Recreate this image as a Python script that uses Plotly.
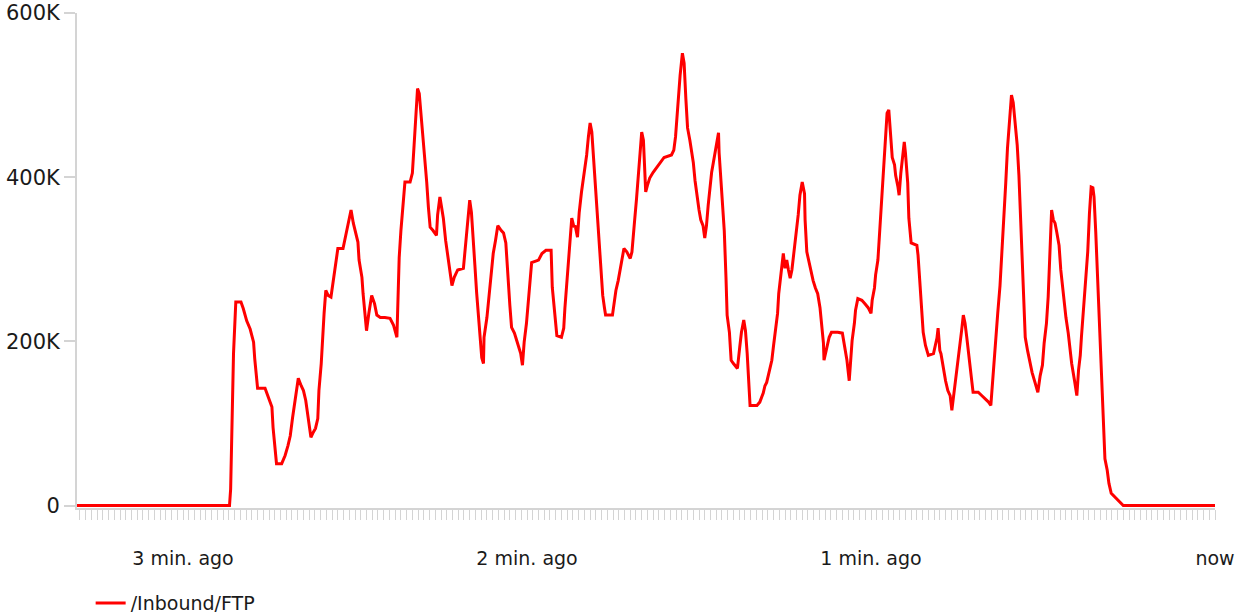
import plotly.graph_objects as go

# Time in seconds relative to "now" (negative = ago), values in K (thousands)
t_idle_start = [-198.5, -171.9]
v_idle_start = [0, 0]

t_seg1 = [-171.7, -171.5, -171.2, -170.8, -169.9, -169.5, -168.9, -168.3, -167.7, -167.5,
          -167.2, -167.0, -165.7, -165.1, -164.5, -164.3, -164.0, -163.7, -162.8, -162.2,
          -161.7, -161.3, -160.9, -160.5, -160.2, -159.9, -159.4, -159.0, -158.6, -158.3,
          -158.0, -157.7, -157.3, -156.9, -156.5, -156.3, -155.9, -155.7, -155.4, -155.1,
          -154.7, -154.2, -153.8, -153.4, -153.0, -152.1, -151.6, -151.2, -150.7, -150.3,
          -149.9, -149.5, -149.3, -148.8, -148.6, -148.3, -148.0, -147.6, -147.1, -146.6,
          -146.2, -145.6, -144.8, -143.9, -143.3, -142.7]
v_seg1 = [20, 104, 185, 248, 248, 240, 225, 215, 199, 179,
          158, 143, 143, 132, 120, 95, 71, 51, 51, 61,
          73, 85, 107, 124, 140, 155, 146, 140, 128, 112,
          98, 83, 89, 94, 106, 140, 173, 205, 234, 262,
          256, 254, 274, 295, 313, 313, 329, 344, 360, 344,
          332, 321, 299, 278, 258, 234, 213, 234, 256, 246,
          232, 229, 229, 228, 220, 205]

t_seg2 = [-142.5, -142.3, -142.0, -141.6, -141.3, -140.4, -140.0, -139.7, -139.4, -139.1,
          -138.8, -138.5, -138.1, -137.8, -137.5, -137.2, -136.9, -136.4, -135.8, -135.6,
          -135.2, -134.9, -134.6, -134.2, -133.8, -133.4, -133.1, -132.7, -132.1, -131.1,
          -130.7, -130.4, -130.0, -129.7, -129.4, -129.1, -128.8, -128.5, -128.2, -127.9,
          -127.6, -127.5, -127.0, -126.6, -126.3, -125.9, -125.5, -125.1, -124.5, -124.1,
          -123.7, -123.4, -123.0, -122.7, -122.2, -121.8, -121.4, -121.1, -120.8, -120.5,
          -120.1, -119.8, -119.5, -119.2, -118.0, -117.4, -116.7, -115.8, -115.6, -115.1,
          -114.8, -114.0, -113.6, -113.4, -113.1, -112.8, -112.5, -112.2, -111.8]
v_seg2 = [265, 302, 335, 370, 394, 394, 405, 439, 478, 508,
          502, 478, 451, 424, 394, 363, 339, 335, 329, 354,
          376, 363, 350, 323, 302, 284, 268, 278, 287, 289,
          321, 350, 372, 357, 329, 293, 260, 232, 207, 180,
          173, 205, 229, 256, 283, 307, 323, 341, 335, 332,
          320, 281, 244, 217, 210, 201, 191, 185, 171, 199,
          222, 246, 274, 296, 299, 307, 311, 311, 266, 232,
          207, 205, 216, 240, 266, 296, 323, 350, 339]

t_seg3 = [-111.6, -111.2, -110.9, -110.5, -110.0, -109.6, -109.3, -109.0, -108.7, -108.4,
          -108.0, -107.7, -107.4, -107.1, -106.8, -106.5, -106.3, -105.1, -104.8, -104.5,
          -104.1, -103.8, -103.5, -103.1, -102.6, -102.0, -101.7, -101.5, -101.2, -100.9,
          -100.6, -100.3, -100.0, -99.7, -99.5, -99.3, -99.0, -98.6, -98.0, -97.4,
          -96.8, -96.1, -94.8, -94.4, -94.1, -93.7, -93.3, -92.9, -92.6, -92.3,
          -92.0, -91.6, -91.3, -91.0, -90.7, -90.4, -90.0, -89.7, -89.3, -89.0,
          -88.7, -88.4, -88.1, -87.8, -87.5, -87.2, -86.9, -86.6, -86.5, -86.2,
          -85.9, -85.6, -85.3, -85.1, -84.7, -84.4, -84.0, -83.3, -82.9, -82.6,
          -82.2, -81.9, -81.6, -81.3, -81.1, -79.9, -79.4, -78.8, -78.5]
v_seg3 = [341, 327, 357, 382, 406, 427, 449, 466, 455, 423,
          388, 356, 321, 287, 256, 241, 232, 232, 248, 262,
          274, 287, 301, 313, 309, 301, 309, 329, 350, 374,
          402, 433, 455, 445, 412, 382, 390, 399, 406, 412,
          418, 424, 427, 433, 449, 488, 524, 551, 539, 496,
          460, 445, 430, 418, 396, 378, 360, 348, 341, 326,
          341, 366, 388, 406, 418, 429, 441, 454, 430, 402,
          372, 335, 278, 232, 211, 177, 173, 167, 193, 211,
          226, 213, 185, 149, 122, 122, 126, 137, 146]

t_seg4 = [-78.2, -77.8, -77.3, -77.0, -76.6, -76.3, -76.1, -75.7, -75.3, -75.0,
          -74.7, -74.4, -74.1, -73.8, -73.6, -73.3, -73.0, -72.7, -72.4, -72.0,
          -71.6, -71.5, -71.2, -70.8, -70.5, -70.1, -69.7, -69.3, -68.9, -68.6,
          -68.3, -68.2, -67.7, -67.3, -66.9, -65.8, -65.0, -64.7, -64.2, -63.8,
          -63.5, -63.3, -62.9, -62.7, -62.3, -61.6, -61.1, -60.5, -60.0, -59.8,
          -59.4, -59.2, -58.8, -58.6, -58.3, -58.0, -57.7, -57.4, -57.2, -56.9,
          -56.6, -56.3, -55.9, -55.7, -55.3, -55.1, -54.8, -54.5, -54.2, -54.0,
          -53.6, -53.4, -53.0, -52.0, -51.8, -51.5, -51.2, -50.9, -50.5, -50.0,
          -49.1, -48.8, -48.5, -48.3, -48.0]
v_seg4 = [150, 162, 177, 195, 216, 234, 258, 283, 307, 289,
          299, 287, 277, 287, 299, 313, 329, 354, 378, 394,
          380, 348, 309, 295, 284, 274, 265, 258, 241, 222,
          198, 177, 193, 205, 211, 211, 210, 199, 177, 152,
          180, 201, 222, 238, 252, 250, 246, 241, 234, 250,
          265, 281, 299, 320, 350, 382, 421, 455, 478, 482,
          451, 424, 415, 402, 388, 378, 405, 427, 443, 430,
          393, 350, 320, 317, 305, 274, 240, 211, 195, 183,
          185, 193, 204, 216, 189]

t_seg5 = [-47.8, -47.4, -47.0, -46.6, -46.2, -45.9, -45.6, -45.4, -45.1, -44.8,
          -44.5, -44.2, -43.9, -43.6, -43.3, -43.0, -42.7, -42.4, -42.2, -41.3,
          -40.7, -40.1, -39.5, -39.1, -38.8, -38.5, -38.2, -37.9, -37.5, -37.2,
          -36.8, -36.5, -36.2, -35.8, -35.5, -35.2, -34.9, -34.5, -34.2, -33.8,
          -33.4, -33.1, -32.7, -32.3, -31.9, -31.4, -30.9, -30.5, -30.1, -29.8,
          -29.4, -29.1, -28.8, -28.5, -28.2, -27.9, -27.6, -27.2, -26.9, -26.5,
          -26.0, -25.6, -25.3, -25.0, -24.5, -24.1, -23.8, -23.5, -23.3, -22.9,
          -22.6, -22.2, -21.9, -21.6, -21.3, -21.1, -20.8, -20.5, -20.2, -19.9,
          -19.5, -19.2, -18.8, -18.5, -18.1, -17.4, -16.6, -16.0, 0.0]
v_seg5 = [185, 167, 152, 140, 134, 116, 132, 144, 158, 174,
          195, 213, 232, 222, 205, 189, 168, 150, 138, 138,
          134, 130, 126, 122, 152, 174, 199, 234, 268, 302,
          348, 393, 435, 470, 500, 491, 467, 439, 402, 333,
          262, 205, 189, 174, 162, 150, 138, 158, 171, 198,
          222, 254, 307, 360, 348, 344, 333, 317, 287, 258,
          229, 210, 189, 173, 152, 134, 165, 183, 205, 240,
          272, 309, 356, 388, 387, 376, 333, 284, 232, 171,
          107, 57, 43, 27, 15, 10, 4, 0, 0]

x_tick_vals = [-180, -120, -60, 0]
x_tick_text = ["3 min. ago", "2 min. ago", "1 min. ago", "now"]
y_tick_vals = [0, 200, 400, 600]
y_tick_text = ["0", "200K", "400K", "600K"]
series_name = "/Inbound/FTP"

segments = [(t_idle_start, v_idle_start), (t_seg1, v_seg1), (t_seg2, v_seg2),
            (t_seg3, v_seg3), (t_seg4, v_seg4), (t_seg5, v_seg5)]
t_all, v_all = [], []
for i, (ts, vs) in enumerate(segments):
    assert len(ts) == len(vs), (i, len(ts), len(vs))
    t_all += ts
    v_all += vs

AXIS_GREY = "#d4d4d4"
FONT = "DejaVu Sans"

fig = go.Figure()
fig.add_trace(go.Scatter(
    x=t_all, y=v_all, mode="lines", name=series_name,
    line=dict(color="#ff0000", width=3),
    showlegend=True,
))

fig.update_layout(
    width=1236, height=615,
    margin=dict(l=77, r=21, t=13, b=107, autoexpand=False),
    paper_bgcolor="white", plot_bgcolor="white",
    showlegend=True,
    legend=dict(
        orientation="h", x=0.012, xanchor="left", y=-0.192, yanchor="middle",
        font=dict(family=FONT, size=19, color="#1a1a1a"),
        bgcolor="rgba(0,0,0,0)", borderwidth=0,
    ),
    xaxis=dict(
        range=[-198.5, 0], showgrid=False, zeroline=False, automargin=False,
        showline=True, linecolor=AXIS_GREY, linewidth=2, layer="below traces",
        tickmode="array", tickvals=x_tick_vals, ticktext=x_tick_text,
        ticks="outside", ticklen=10, tickcolor=AXIS_GREY, tickwidth=1,
        ticklabelstandoff=22,
        tickfont=dict(family=FONT, size=19, color="#1a1a1a"),
        minor=dict(dtick=1, ticks="outside", ticklen=10, tickcolor=AXIS_GREY,
                   tickwidth=1, showgrid=False),
    ),
    yaxis=dict(
        range=[-3, 600], showgrid=False, zeroline=False, automargin=False,
        showline=True, linecolor=AXIS_GREY, linewidth=2, layer="below traces",
        tickmode="array", tickvals=y_tick_vals, ticktext=y_tick_text,
        ticks="outside", ticklen=11, tickcolor=AXIS_GREY, tickwidth=2,
        tickfont=dict(family=FONT, size=21, color="#1a1a1a"),
    ),
)

fig.write_html(
    "out.html",
    config={"displayModeBar": False},
    post_script="document.body.style.margin='0';document.body.style.overflow='hidden';",
)
